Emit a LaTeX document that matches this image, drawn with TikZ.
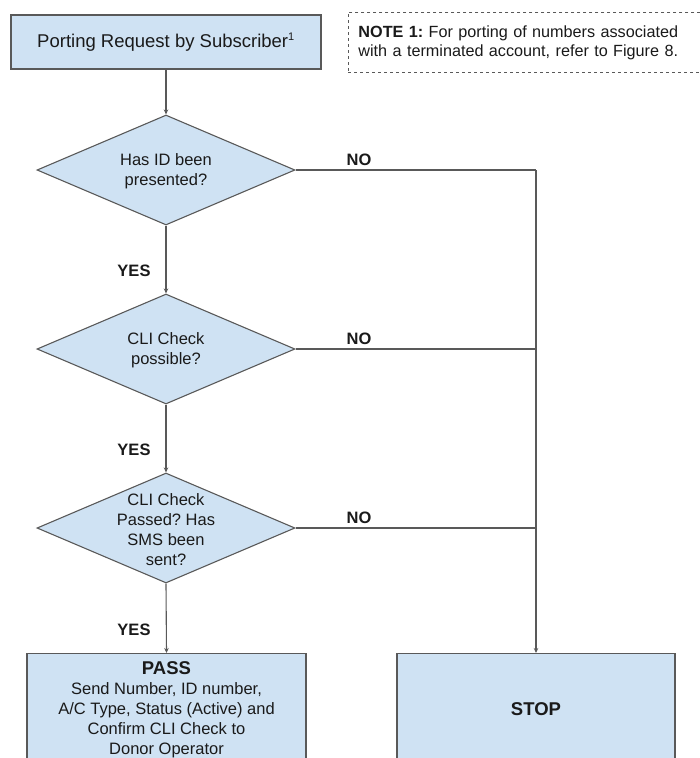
\documentclass[tikz,border=0pt]{standalone}
\usepackage{fontspec}
\setmainfont{Liberation Sans}
\usetikzlibrary{shapes.geometric,arrows.meta}
\definecolor{boxfill}{HTML}{CFE2F3}
\definecolor{edge}{HTML}{595959}
\definecolor{txt}{HTML}{1A1A1A}
\frenchspacing
\tikzset{
  x=1pt,y=-1pt,
  norm/.style={font=\fontsize{16.5}{20}\selectfont, text=txt},
  boxnode/.style={draw=edge, fill=boxfill, line width=1.1pt, inner sep=0pt},
  decision/.style={shape=diamond, draw=edge, fill=boxfill, line width=1.1pt, inner sep=0pt, minimum width=258pt, minimum height=110pt},
  dtext/.style={norm, align=center, inner sep=0pt},
  conn/.style={draw=edge, line width=1.1pt},
  arr/.style={conn, -{Stealth[length=5pt,width=4.5pt]}},
  lab/.style={font=\fontsize{16.5}{20}\selectfont\bfseries, text=txt, inner sep=0pt},
}
\begin{document}
\begin{tikzpicture}
\useasboundingbox (0,0) rectangle (700,758);
\clip (0,0) rectangle (700,758);
% top box
\node[boxnode, minimum width=310pt, minimum height=54pt, font=\fontsize{18.5}{22}\selectfont, text=txt] (top) at (166,42) {Porting Request by Subscriber\textsuperscript{\fontsize{11}{12}\selectfont 1}};
% note
\node[draw=edge, dashed, line width=0.9pt, anchor=north west, minimum width=362pt, minimum height=60pt, text width=342pt, inner xsep=10pt, inner ysep=0pt, align=left, norm, font=\fontsize{16.2}{19}\selectfont] (note) at (348,12) {\textbf{NOTE 1:} For porting of numbers associated\\with a terminated account, refer to Figure 8.};
% decisions
\node[decision] (d1) at (166,170) {};
\node[dtext] (t1) at (166,171.5) {Has ID been\\presented?};
\node[decision] (d2) at (166,349) {};
\node[dtext] (t2) at (166,350) {CLI Check\\possible?};
\node[decision] (d3) at (166,528) {};
\node[dtext] (t3) at (166,530) {CLI Check\\Passed? Has\\SMS been\\sent?};
% end boxes
\node[boxnode, anchor=north, minimum width=279pt, minimum height=112pt, align=center, norm] (pass) at (166.5,653) {{\fontsize{18.5}{22}\selectfont\bfseries PASS}\\Send Number, ID number,\\A/C Type, Status (Active) and\\Confirm CLI Check to\\Donor Operator};
\node[boxnode, anchor=north, minimum width=278pt, minimum height=112pt, font=\fontsize{18.5}{22}\selectfont\bfseries, text=txt] (stop) at (536,653) {STOP};
% junctions
\coordinate (j1) at (536,170);
\coordinate (j2) at (536,349);
\coordinate (j3) at (536,528);
% connectors
\draw[arr] (top.south) -- (d1.north);
\draw[arr] (d1.south) -- (d2.north);
\draw[arr] (d2.south) -- (d3.north);
\draw[arr] (d3.south) -- (pass.north);
\draw[conn] (d1.east) -- (j1);
\draw[conn] (d2.east) -- (j2);
\draw[conn] (d3.east) -- (j3);
\draw[arr] (j1) -- (stop.north);
% labels
\node[lab] (y1) at (134,271) {YES};
\node[lab] (y2) at (134,450) {YES};
\node[lab] (y3) at (134,630) {YES};
\node[lab] (n1) at (359,160) {NO};
\node[lab] (n2) at (359,339) {NO};
\node[lab] (n3) at (359,518) {NO};
\end{tikzpicture}
\end{document}
